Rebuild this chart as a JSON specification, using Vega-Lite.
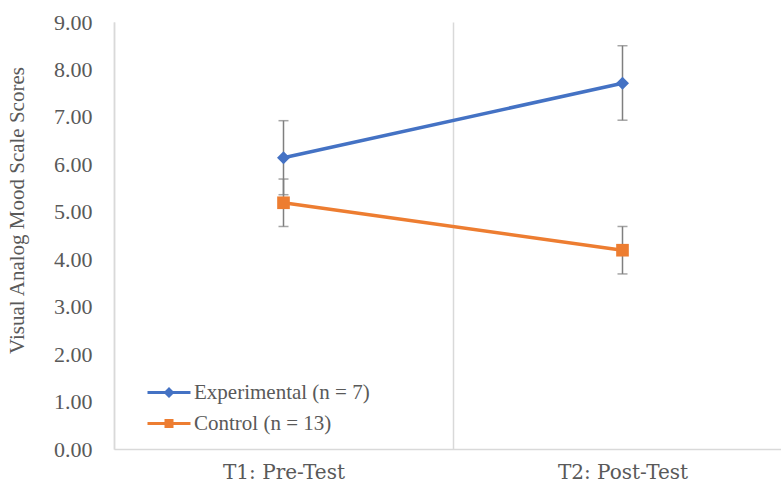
{
  "$schema": "https://vega.github.io/schema/vega-lite/v6.json",
  "width": 667,
  "height": 427,
  "autosize": "none",
  "padding": {"left": 114, "top": 22, "right": 0, "bottom": 36},
  "background": "white",
  "config": {
    "view": {"stroke": null},
    "font": "Liberation Serif"
  },
  "data": {
    "values": [
      {"group": "Experimental (n = 7)", "time": "T1: Pre-Test", "mean": 6.14, "lo": 5.36, "hi": 6.92},
      {"group": "Experimental (n = 7)", "time": "T2: Post-Test", "mean": 7.71, "lo": 6.93, "hi": 8.5},
      {"group": "Control (n = 13)", "time": "T1: Pre-Test", "mean": 5.19, "lo": 4.69, "hi": 5.69},
      {"group": "Control (n = 13)", "time": "T2: Post-Test", "mean": 4.19, "lo": 3.69, "hi": 4.69}
    ]
  },
  "encoding": {
    "x": {
      "field": "time",
      "type": "nominal",
      "sort": ["T1: Pre-Test", "T2: Post-Test"],
      "scale": {"type": "band", "range": [0, 678], "paddingInner": 0, "paddingOuter": 0},
      "axis": {
        "title": null,
        "labelAngle": 0,
        "labelFont": "DejaVu Serif",
        "labelFontSize": 20,
        "labelColor": "#595959",
        "labelPadding": 13,
        "ticks": false,
        "domainColor": "#d9d9d9",
        "domainWidth": 1.5,
        "grid": true,
        "tickBand": "extent",
        "gridColor": "#d9d9d9",
        "gridWidth": 1.5
      }
    }
  },
  "layer": [
    {
      "mark": {"type": "errorbar", "ticks": {"size": 10, "thickness": 1.5, "color": "#7f7f7f"}, "rule": {"strokeWidth": 1.5, "color": "#7f7f7f"}},
      "encoding": {
        "y": {
          "field": "lo",
          "type": "quantitative",
          "scale": {"domain": [0, 9], "nice": false},
          "axis": {
            "title": "Visual Analog Mood Scale Scores",
            "titleFont": "Liberation Serif",
            "titleFontSize": 21,
            "titleFontWeight": "normal",
            "titleColor": "#595959",
            "titleAngle": -90,
            "titleX": -97,
            "titleY": 188,
            "titleAlign": "center",
            "titleBaseline": "middle",
            "values": [0, 1, 2, 3, 4, 5, 6, 7, 8, 9],
            "format": ".2f",
            "labelFont": "Liberation Serif",
            "labelFontSize": 22,
            "labelColor": "#595959",
            "labelPadding": 22,
            "ticks": false,
            "grid": false,
            "domainColor": "#d9d9d9",
            "domainWidth": 1.5
          }
        },
        "y2": {"field": "hi"}
      }
    },
    {
      "mark": {"type": "line", "strokeWidth": 3.5},
      "encoding": {
        "y": {"field": "mean", "type": "quantitative"},
        "color": {
          "field": "group",
          "type": "nominal",
          "sort": ["Experimental (n = 7)", "Control (n = 13)"],
          "scale": {"domain": ["Experimental (n = 7)", "Control (n = 13)"], "range": ["#4472C4", "#ED7D31"]},
          "legend": {
            "title": null,
            "orient": "none",
            "legendX": 44.5,
            "legendY": 360,
            "padding": 0,
            "rowPadding": 9,
            "labelFont": "Liberation Serif",
            "labelFontSize": 21,
            "labelColor": "#595959",
            "labelOffset": 14.5,
            "labelLimit": 400,
            "symbolSize": 400,
            "encode": {
              "symbols": {
                "update": {
                  "shape": {"signal": "datum.value == 'Experimental (n = 7)' ? 'M-2.15,-0.15H2.15V0.15H-2.15Z M0,-0.55L0.55,0L0,0.55L-0.55,0Z' : 'M-2.15,-0.15H2.15V0.15H-2.15Z M-0.45,-0.45H0.45V0.45H-0.45Z'"},
                  "fill": {"signal": "datum.value == 'Experimental (n = 7)' ? '#4472C4' : '#ED7D31'"},
                  "fillOpacity": {"value": 1},
                  "stroke": {"value": "transparent"},
                  "strokeWidth": {"value": 0},
                  "size": {"value": 400}
                }
              }
            }
          }
        }
      }
    },
    {
      "transform": [{"filter": "datum.group == 'Experimental (n = 7)'"}],
      "mark": {"type": "point", "filled": true, "opacity": 1, "shape": "diamond", "color": "#4472C4", "size": 170},
      "encoding": {"y": {"field": "mean", "type": "quantitative"}}
    },
    {
      "transform": [{"filter": "datum.group == 'Control (n = 13)'"}],
      "mark": {"type": "point", "filled": true, "opacity": 1, "shape": "square", "color": "#ED7D31", "size": 160},
      "encoding": {"y": {"field": "mean", "type": "quantitative"}}
    }
  ],
  "resolve": {"scale": {"y": "shared"}}
}
